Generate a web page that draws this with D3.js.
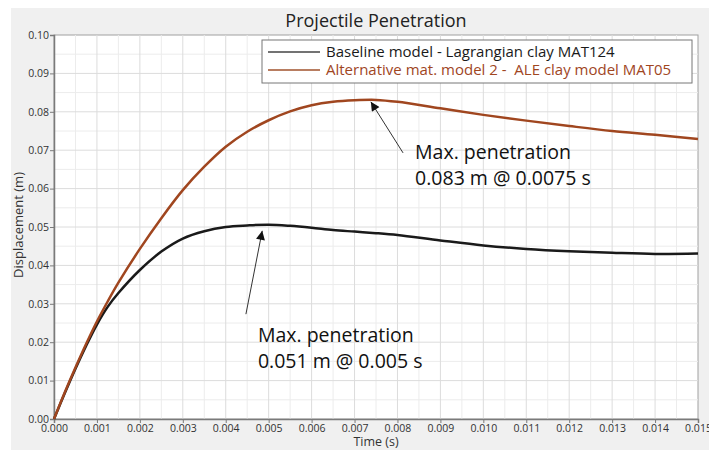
<!DOCTYPE html>
<html>
<head>
<meta charset="utf-8">
<script src="https://cdn.jsdelivr.net/npm/d3@7"></script>
<style>
  body { margin: 0; background: #fff; }
  svg { display: block; font-family: "Open Sans", sans-serif; }
  text { white-space: pre; }
</style>
</head>
<body>
<svg id="chart" width="709" height="450"></svg>
<script>
// time steps (s)
var time = [0, 0.00025, 0.0005, 0.00075, 0.001, 0.00125, 0.0015, 0.002, 0.0025, 0.003, 0.0035,
            0.004, 0.0045, 0.005, 0.0055, 0.006, 0.0065, 0.007, 0.0075, 0.008, 0.009,
            0.010, 0.011, 0.012, 0.013, 0.014, 0.015];

// displacement (m), baseline Lagrangian model
var baseline = [0, 0.0067, 0.0131, 0.0191, 0.0246, 0.0292, 0.0328, 0.0388, 0.0436, 0.0470, 0.0489,
                0.0500, 0.0504, 0.0506, 0.0503, 0.0498, 0.0492, 0.0488, 0.0484, 0.0479, 0.0465,
                0.0452, 0.0443, 0.0437, 0.0433, 0.0430, 0.0431];

// displacement (m), ALE clay model
var alternative = [0, 0.0069, 0.0134, 0.0196, 0.0254, 0.0306, 0.0355, 0.0443, 0.0523, 0.0596, 0.0657,
                   0.0709, 0.0748, 0.0778, 0.0801, 0.0817, 0.0826, 0.0830, 0.0831, 0.0826, 0.0809,
                   0.0792, 0.0777, 0.0763, 0.0750, 0.0740, 0.0729];

var seriesNames = ["Baseline model - Lagrangian clay MAT124",
                   "Alternative mat. model 2 -  ALE clay model MAT05"];
var seriesColors = ["#1a1a1a", "#a0461f"];

var xTicks = d3.range(0, 0.0155, 0.001);
var yTicks = d3.range(0, 0.1005, 0.01);

// annotation text + arrow, in data units
var noteLines = [["Max. penetration", "0.083 m @ 0.0075 s"],
                 ["Max. penetration", "0.051 m @ 0.005 s"]];
var noteTip = [[0.00738, 0.0826], [0.00485, 0.0490]];
var noteTail = [[0.00813, 0.0693], [0.00447, 0.0273]];
var noteText = [[0.00841, 0.0677], [0.00475, 0.0201]];

var svg = d3.select("#chart");
var margin = {left: 54, right: 11, top: 35, bottom: 31};
var W = 709, H = 450;

// grey panel behind everything
svg.append("rect").attr("x", 11).attr("y", 8).attr("width", W - 11).attr("height", H - 8)
  .attr("fill", "#f0f0f0");

var x = d3.scaleLinear().domain([0, 0.015]).range([margin.left, W - margin.right]);
var y = d3.scaleLinear().domain([0, 0.10]).range([H - margin.bottom, margin.top]);

svg.append("rect").attr("x", x(0)).attr("y", y(0.1))
  .attr("width", x(0.015) - x(0)).attr("height", y(0) - y(0.1))
  .attr("fill", "#fff").attr("stroke", "#a0a0a0").attr("stroke-width", 1);

// minor grid
var grid = svg.append("g");
grid.selectAll(".vmin").data(d3.range(0.0005, 0.015, 0.001)).enter().append("line")
  .attr("x1", d => x(d)).attr("x2", d => x(d)).attr("y1", y(0)).attr("y2", y(0.1))
  .attr("stroke", "#ececec").attr("stroke-width", 1);
grid.selectAll(".hmin").data(d3.range(0.005, 0.1, 0.01)).enter().append("line")
  .attr("y1", d => y(d)).attr("y2", d => y(d)).attr("x1", x(0)).attr("x2", x(0.015))
  .attr("stroke", "#ececec").attr("stroke-width", 1);
// major grid
grid.selectAll(".vmaj").data(xTicks.slice(1, -1)).enter().append("line")
  .attr("x1", d => x(d)).attr("x2", d => x(d)).attr("y1", y(0)).attr("y2", y(0.1))
  .attr("stroke", "#dcdcdc").attr("stroke-width", 1);
grid.selectAll(".hmaj").data(yTicks.slice(1, -1)).enter().append("line")
  .attr("y1", d => y(d)).attr("y2", d => y(d)).attr("x1", x(0)).attr("x2", x(0.015))
  .attr("stroke", "#dcdcdc").attr("stroke-width", 1);

// axes
var xAxis = svg.append("g").attr("transform", "translate(0," + y(0) + ")")
  .call(d3.axisBottom(x).tickValues(xTicks).tickFormat(d3.format(".3f")).tickSize(4).tickPadding(2));
var yAxis = svg.append("g").attr("transform", "translate(" + x(0) + ",0)")
  .call(d3.axisLeft(y).tickValues(yTicks).tickFormat(d3.format(".2f")).tickSize(4).tickPadding(1));
[xAxis, yAxis].forEach(function(a) {
  a.select(".domain").attr("stroke", "#7a7a7a").attr("stroke-width", 1.5);
  a.selectAll(".tick line").attr("stroke", "#7a7a7a");
  a.selectAll("text").attr("font-family", "Open Sans").attr("font-size", 10.5).attr("fill", "#333");
});

// titles
svg.append("text").attr("x", (x(0) + x(0.015)) / 2).attr("y", 27)
  .attr("text-anchor", "middle").attr("font-size", 18).attr("fill", "#222")
  .text("Projectile Penetration");
svg.append("text").attr("x", (x(0) + x(0.015)) / 2).attr("y", 446)
  .attr("text-anchor", "middle").attr("font-size", 12.5).attr("fill", "#333")
  .text("Time (s)");
svg.append("text").attr("transform", "translate(23," + (y(0.05) - 2) + ") rotate(-90)")
  .attr("text-anchor", "middle").attr("font-size", 13).attr("fill", "#333")
  .text("Displacement (m)");

// curves
var line = d3.line().x(d => x(d[0])).y(d => y(d[1])).curve(d3.curveCatmullRom.alpha(0.5));
[baseline, alternative].forEach(function(vals, i) {
  svg.append("path").datum(time.map((t, j) => [t, vals[j]]))
    .attr("d", line).attr("fill", "none")
    .attr("stroke", seriesColors[i]).attr("stroke-width", 2.5);
});

// legend
var lg = svg.append("g");
lg.append("rect").attr("x", 262).attr("y", 40).attr("width", 430).attr("height", 43)
  .attr("fill", "#fff").attr("stroke", "#777").attr("stroke-width", 1);
seriesNames.forEach(function(name, i) {
  var yy = 52 + i * 18;
  lg.append("line").attr("x1", 268).attr("x2", 320).attr("y1", yy).attr("y2", yy)
    .attr("stroke", i == 0 ? "#444" : "#a0522d").attr("stroke-width", 1.5);
  lg.append("text").attr("x", 326).attr("y", yy + 5).attr("font-size", 15)
    .attr("fill", i == 0 ? "#1a1a1a" : "#a0461f").text(name);
});

// annotations
svg.append("defs").append("marker").attr("id", "head")
  .attr("viewBox", "0 0 10 10").attr("refX", 10).attr("refY", 5)
  .attr("markerWidth", 11).attr("markerHeight", 9).attr("markerUnits", "userSpaceOnUse")
  .attr("orient", "auto")
  .append("path").attr("d", "M0,0 L10,5 L0,10 Z").attr("fill", "#111");

noteLines.forEach(function(lines, i) {
  svg.append("line")
    .attr("x1", x(noteTail[i][0])).attr("y1", y(noteTail[i][1]))
    .attr("x2", x(noteTip[i][0])).attr("y2", y(noteTip[i][1]))
    .attr("stroke", "#333").attr("stroke-width", 1).attr("marker-end", "url(#head)");
  var t = svg.append("text").attr("font-family", "Open Sans").attr("font-size", 19.5).attr("fill", "#111");
  lines.forEach(function(s, k) {
    t.append("tspan").attr("x", x(noteText[i][0])).attr("y", y(noteText[i][1]) + k * 26).text(s);
  });
});
</script>
</body>
</html>
